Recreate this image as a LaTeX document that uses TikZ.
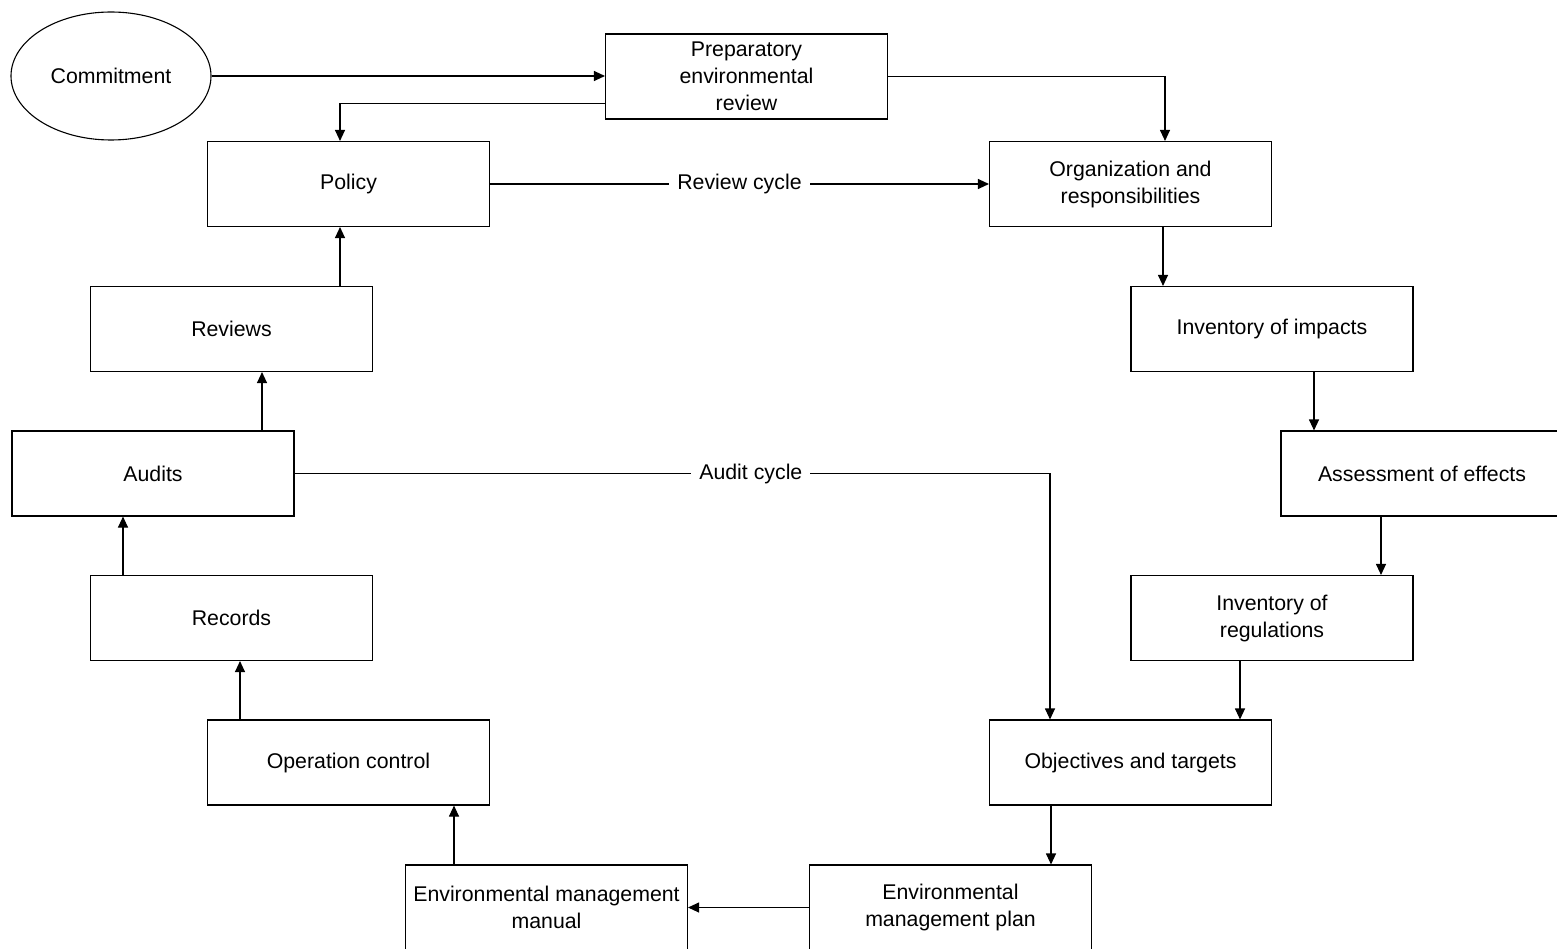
\documentclass[tikz,border=0pt]{standalone}
\usepackage{fontspec}
\setmainfont{Liberation Sans}
\usepackage{tikz}
\usetikzlibrary{shapes.geometric}
\usetikzlibrary{arrows.meta}

\begin{document}
\begin{tikzpicture}
	[x=1pt, y=-1pt, line width=1.1pt, >={Triangle[length=11pt,width=10pt]},
	main/.style = {draw, rectangle, minimum width=282pt, minimum height=85pt, inner sep=0pt, align=center, font=\fontsize{21.3}{27}\selectfont},
	oval/.style = {draw, ellipse, minimum width=200pt, minimum height=128pt, inner sep=0pt, font=\fontsize{21.3}{27}\selectfont},
	cycle/.style = {fill=white, inner sep=8pt, font=\fontsize{21.3}{27}\selectfont}]
	\useasboundingbox (0,0) rectangle (1557,949);
	\clip (0,0) rectangle (1557,949);
	\node[oval] (1) at (111,76) {Commitment};
	\node[main] (2) at (746.5,76.5) {Preparatory\\environmental\\review};
	\node[main] (3) at (348.5,184) {Policy};
	\node[main] (4) at (1130.5,184) {Organization and\\responsibilities};
	\node[main] (5) at (231.5,329) {Reviews};
	\node[main] (6) at (1272,329) {Inventory of impacts};
	\node[main] (7) at (153,473.5) {Audits};
	\node[main] (8) at (1422,473.5) {Assessment of effects};
	\node[main] (9) at (231.5,618) {Records};
	\node[main] (10) at (1272,618) {Inventory of\\regulations};
	\node[main] (11) at (348.5,762.5) {Operation control};
	\node[main] (12) at (1130.5,762.5) {Objectives and targets};
	\node[main] (13) at (546.5,907.5) {Environmental management\\manual};
	\node[main] (14) at (950.5,907.5) {Environmental\\management plan};
	\draw[->] (1) -- (1 -| 2.west);
	\draw[->] ([yshift=-27pt]2.west) -| ([xshift=-8.5pt]3.north);
	\draw[->] (2.east) -| ([xshift=34.5pt]4.north);
	\draw[->] (3) -- node[cycle] {Review cycle} (4);
	\draw[->] ([xshift=32.5pt]4.south) -- ([xshift=32.5pt]4.south |- 6.north);
	\draw[->] ([xshift=42pt]6.south) -- ([xshift=42pt]6.south |- 8.north);
	\draw[->] ([xshift=-41pt]8.south) -- ([xshift=-41pt]8.south |- 10.north);
	\draw[->] ([xshift=-32pt]10.south) -- ([xshift=-32pt]10.south |- 12.north);
	\draw[->] (7.east) -| node[cycle, pos=0.302] {Audit cycle} ([xshift=-80.5pt]12.north);
	\draw[->] ([xshift=-79.5pt]12.south) -- ([xshift=-79.5pt]12.south |- 14.north);
	\draw[->] (14) -- (13);
	\draw[->] ([xshift=-92.5pt]13.north) -- ([xshift=-92.5pt]13.north |- 11.south);
	\draw[->] ([xshift=-108.5pt]11.north) -- ([xshift=-108.5pt]11.north |- 9.south);
	\draw[->] ([xshift=-108.5pt]9.north) -- ([xshift=-108.5pt]9.north |- 7.south);
	\draw[->] ([xshift=109pt]7.north) -- ([xshift=109pt]7.north |- 5.south);
	\draw[->] ([xshift=108.5pt]5.north) -- ([xshift=108.5pt]5.north |- 3.south);
\end{tikzpicture}
\end{document}
